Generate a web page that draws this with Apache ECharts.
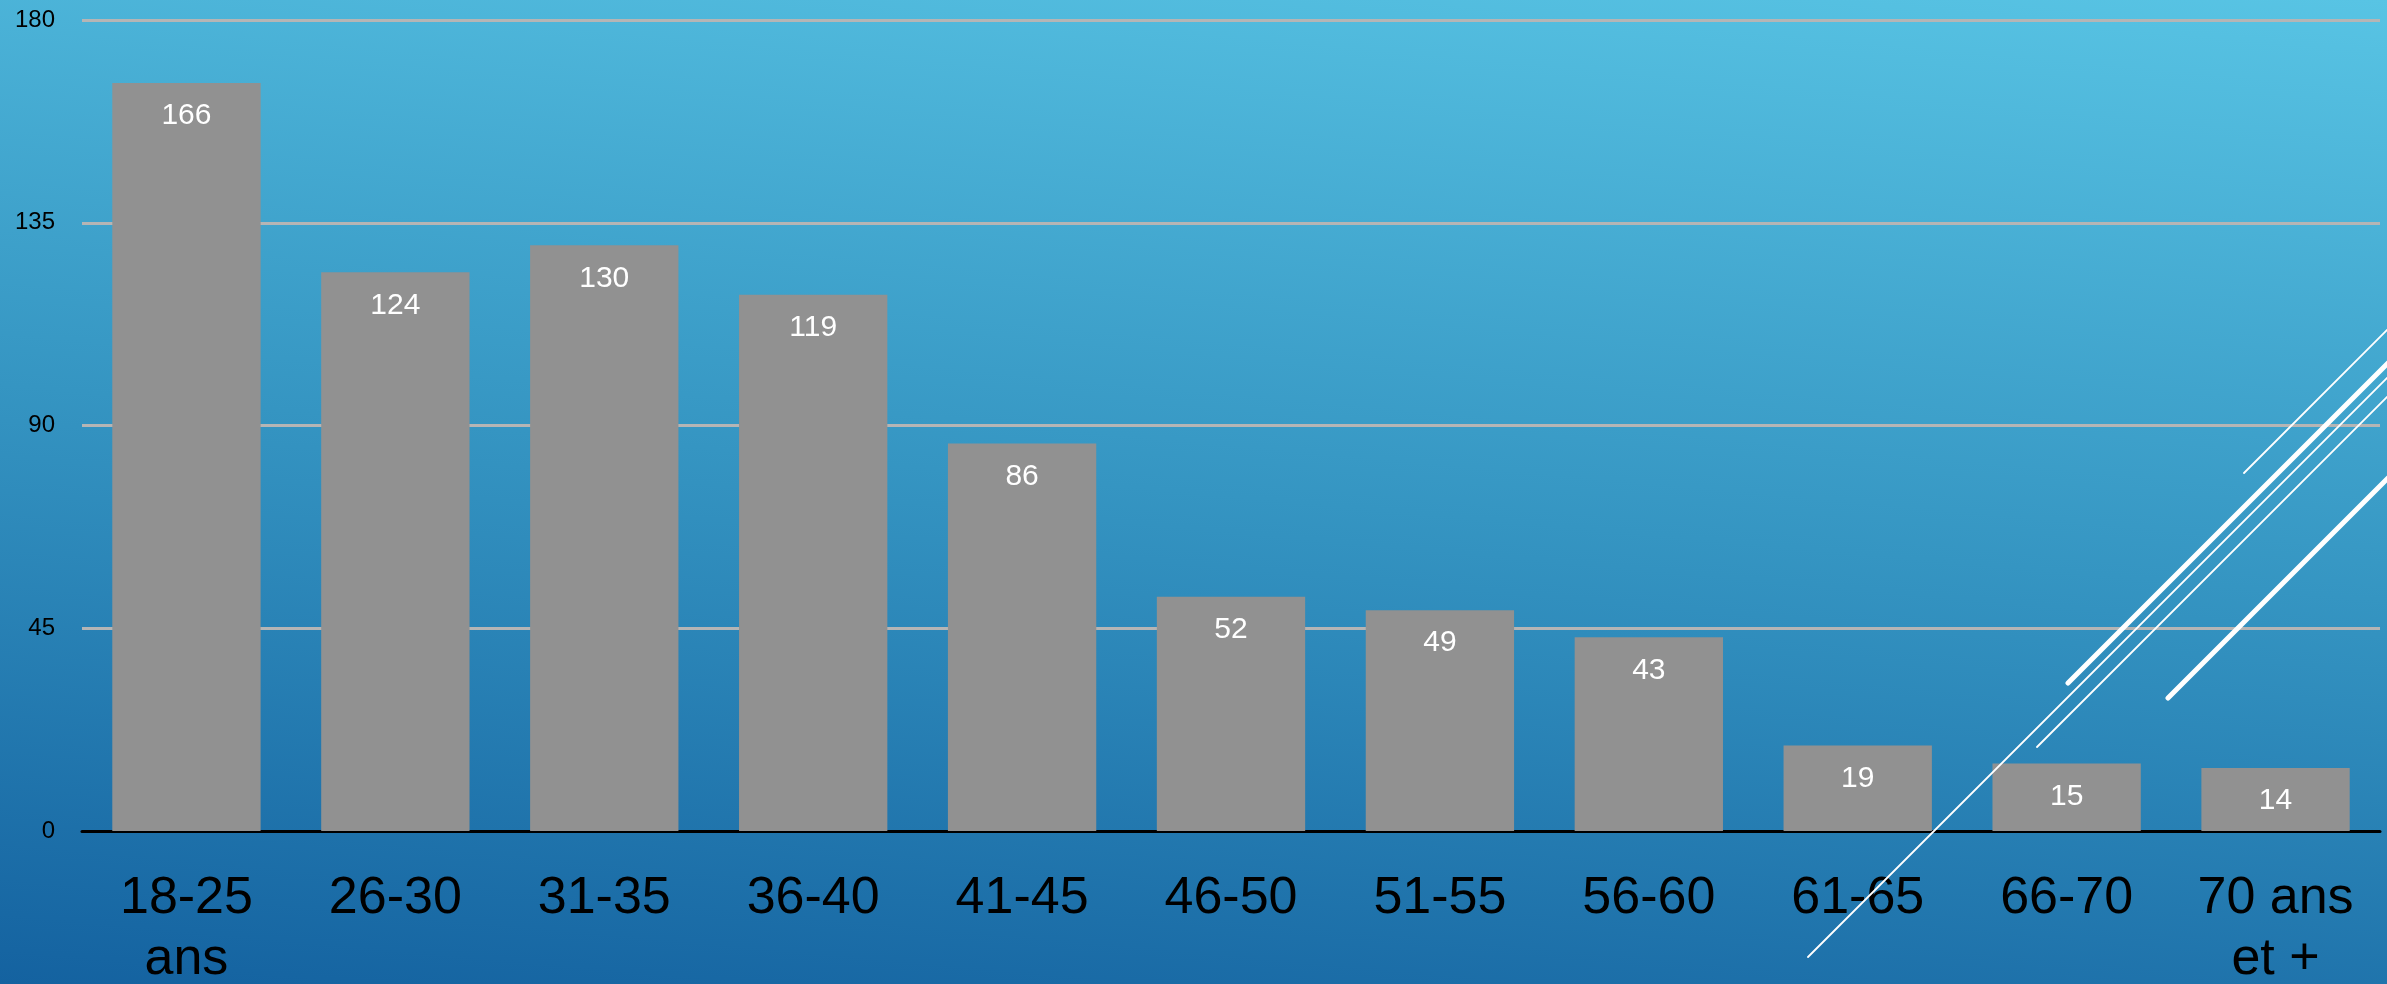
<!DOCTYPE html>
<html>
<head>
<meta charset="utf-8">
<script src="https://cdn.jsdelivr.net/npm/echarts@6/dist/echarts.min.js"></script>
<style>
html,body{margin:0;padding:0;width:2387px;height:984px;overflow:hidden;}
#chart{width:2387px;height:984px;}
</style>
</head>
<body>
<div id="chart"></div>
<script>
var categories = ['18-25\nans', '26-30', '31-35', '36-40', '41-45', '46-50', '51-55', '56-60', '61-65', '66-70', '70 ans\net +'];
var values = [166, 124, 130, 119, 86, 52, 49, 43, 19, 15, 14];
var yTicks = [0, 45, 90, 135, 180];

var chart = echarts.init(document.getElementById('chart'), null, {renderer: 'canvas'});

function deco(x1, y1, x2, y2, w) {
  return {
    type: 'line', z: 100, silent: true,
    shape: {x1: x1, y1: y1, x2: x2, y2: y2},
    style: {stroke: '#ffffff', lineWidth: w, lineCap: 'round'}
  };
}

var option = {
  animation: false,
  backgroundColor: new echarts.graphic.LinearGradient(2387, 0, 2279, 1191, [
    {offset: 0, color: '#58C4E4'},
    {offset: 0.5, color: '#3595C2'},
    {offset: 1, color: '#1462A0'}
  ], true),
  textStyle: {fontFamily: 'Liberation Sans, Arial, sans-serif'},
  grid: {left: 82, right: 7, top: 20, bottom: 153, containLabel: false, outerBoundsMode: 'none'},
  xAxis: {
    type: 'category',
    data: categories,
    axisLine: {show: true, lineStyle: {color: '#000000', width: 3}},
    axisTick: {show: false},
    axisLabel: {
      color: '#000000', fontSize: 52, lineHeight: 61, margin: 37,
      interval: 0, fontFamily: 'Liberation Sans, Arial, sans-serif'
    }
  },
  yAxis: {
    type: 'value',
    min: yTicks[0], max: yTicks[yTicks.length - 1], interval: yTicks[1] - yTicks[0],
    axisLine: {show: false},
    axisTick: {show: false},
    splitLine: {show: true, lineStyle: {color: '#B5B5B5', width: 3}},
    axisLabel: {color: '#000000', fontSize: 24, margin: 27, fontFamily: 'Liberation Sans, Arial, sans-serif'}
  },
  series: [{
    type: 'bar',
    data: values,
    barWidth: '71%',
    itemStyle: {color: '#919191'},
    label: {
      show: true, position: 'insideTop', distance: 18,
      color: '#ffffff', fontSize: 30, fontFamily: 'Liberation Sans, Arial, sans-serif'
    }
  }],
  graphic: [
    deco(2244, 473, 2450, 267, 1.8),
    deco(2068, 683, 2450, 301, 5),
    deco(1808, 957, 2450, 315, 1.8),
    deco(2037, 747, 2450, 334, 1.8),
    deco(2168, 698, 2450, 416, 5)
  ]
};
chart.setOption(option);
</script>
</body>
</html>
